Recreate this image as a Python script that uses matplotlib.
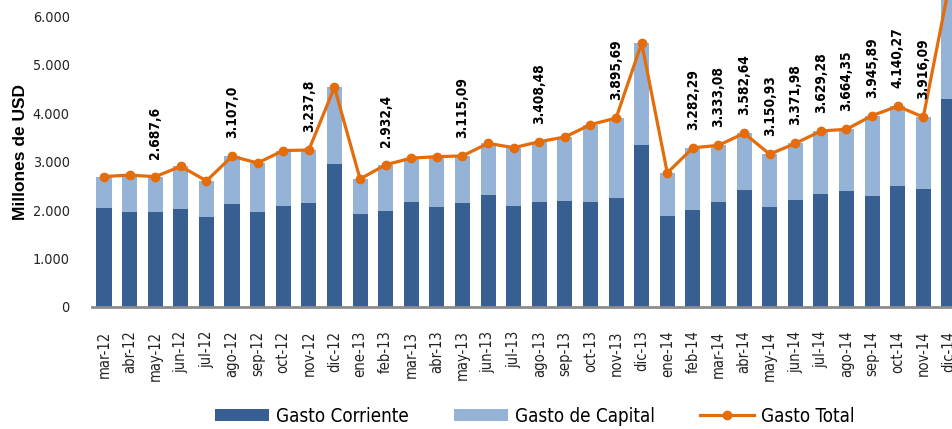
import matplotlib
matplotlib.use('Agg')
import matplotlib.pyplot as plt
from matplotlib import font_manager
import numpy as np

# datos (millones de USD)
meses = ['mar-12', 'abr-12', 'may-12', 'jun-12', 'jul-12', 'ago-12', 'sep-12', 'oct-12',
         'nov-12', 'dic-12', 'ene-13', 'feb-13', 'mar-13', 'abr-13', 'may-13', 'jun-13',
         'jul-13', 'ago-13', 'sep-13', 'oct-13', 'nov-13', 'dic-13', 'ene-14', 'feb-14',
         'mar-14', 'abr-14', 'may-14', 'jun-14', 'jul-14', 'ago-14', 'sep-14', 'oct-14',
         'nov-14', 'dic-14']
gasto_corriente = [2041, 1959, 1959, 2021, 1856, 2124, 1959, 2082, 2144, 2948, 1918, 1979,
                   2165, 2062, 2144, 2309, 2082, 2165, 2186, 2165, 2247, 3340, 1876, 2000,
                   2165, 2412, 2062, 2206, 2330, 2392, 2289, 2495, 2433, 4289]
gasto_capital = [649, 761, 729, 879, 744, 983, 1011, 1143, 1094, 1582, 722, 953,
                 905, 1038, 971, 1066, 1203, 1243, 1319, 1595, 1649, 2100, 889, 1282,
                 1168, 1171, 1089, 1166, 1299, 1272, 1657, 1645, 1483, 2311]
gasto_total = [2690, 2720, 2687.6, 2900, 2600, 3107.0, 2970, 3225, 3237.8, 4530, 2640, 2932.4,
               3070, 3100, 3115.09, 3375, 3285, 3408.48, 3505, 3760, 3895.69, 5440, 2765, 3282.29,
               3333.08, 3582.64, 3150.93, 3371.98, 3629.28, 3664.35, 3945.89, 4140.27, 3916.09, 6600]
etiquetas = [None, None, '2.687,6', None, None, '3.107,0', None, None, '3.237,8', None, None,
             '2.932,4', None, None, '3.115,09', None, None, '3.408,48', None, None, '3.895,69',
             None, None, '3.282,29', '3.333,08', '3.582,64', '3.150,93', '3.371,98', '3.629,28',
             '3.664,35', '3.945,89', '4.140,27', '3.916,09', None]

c_corr = '#375F91'
c_cap = '#95B3D7'
c_tot = '#E46C0A'


def fp(size, weight='normal'):
    return font_manager.FontProperties(family='DejaVu Sans', stretch='condensed',
                                       size=size, weight=weight)


fig = plt.figure(figsize=(9.53, 4.29), dpi=100)
ax = fig.add_axes([92 / 953, 122 / 429, 1 - 92 / 953, 307 / 429])

x = np.arange(len(meses))
b1 = ax.bar(x, gasto_corriente, width=0.59, color=c_corr, label='Gasto Corriente')
b2 = ax.bar(x, gasto_capital, width=0.59, bottom=gasto_corriente, color=c_cap, label='Gasto de Capital')
l1, = ax.plot(x, gasto_total, color=c_tot, lw=2.3, marker='o', markersize=6, label='Gasto Total')

for i, t in enumerate(etiquetas):
    if t:
        ax.annotate(t, (x[i], gasto_total[i]), xytext=(0, 13), textcoords='offset points',
                    rotation=90, ha='center', va='bottom', fontproperties=fp(9.8, 'bold'))

ax.set_xlim(-0.47, 33.16)
ax.set_ylim(0, 6330)
ax.set_yticks(range(0, 6001, 1000))
ax.set_yticklabels(['0', '1.000', '2.000', '3.000', '4.000', '5.000', '6.000'],
                   fontproperties=fp(10.3), color='#222222')
ax.set_xticks(x)
ax.set_xticklabels(meses, rotation=90, fontproperties=fp(10.5), color='#222222')
ax.tick_params(axis='both', length=0)
ax.tick_params(axis='y', pad=16)
ax.tick_params(axis='x', pad=17)
for s in ['top', 'right', 'left']:
    ax.spines[s].set_visible(False)
ax.spines['bottom'].set_color('#8C8C8C')
ax.spines['bottom'].set_linewidth(2)

ax.set_ylabel('Millones de USD', fontsize=12.5, fontweight='bold',
              family=['Liberation Sans', 'DejaVu Sans'])
ax.yaxis.set_label_coords(-64 / 861, 0.5 * 6000 / 6330 + 0.03)

fig.legend([b1, b2, l1], ['Gasto Corriente', 'Gasto de Capital', 'Gasto Total'],
           loc='center', bbox_to_anchor=(0.561, 0.03), ncol=3, frameon=False,
           prop=fp(13.5), handlelength=2.9, handleheight=0.6,
           handletextpad=0.35, columnspacing=2.4)

fig.savefig('out.png', dpi=100)
